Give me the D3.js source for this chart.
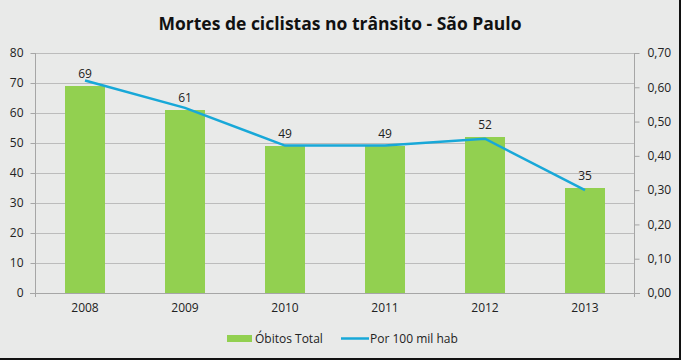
<!DOCTYPE html>
<html>
<head>
<meta charset="utf-8">
<script src="https://cdn.jsdelivr.net/npm/d3@7"></script>
<style>
  body { margin: 0; background: #fff; }
  svg text { font-family: "Open Sans", Lato, sans-serif; fill: #222; }
</style>
</head>
<body>
<div id="chart"></div>
<script>
var svgWidth = 681;
var svgHeight = 360;
var margin = { top: 53, right: 46, bottom: 67, left: 35 };
var width = svgWidth - margin.left - margin.right;
var height = svgHeight - margin.top - margin.bottom;

// data
var years = ["2008", "2009", "2010", "2011", "2012", "2013"];
var obitos = [69, 61, 49, 49, 52, 35];
var por100mil = [0.62, 0.54, 0.43, 0.43, 0.45, 0.30];
var leftTicks = [0, 10, 20, 30, 40, 50, 60, 70, 80];
var rightTicks = [0, 0.1, 0.2, 0.3, 0.4, 0.5, 0.6, 0.7];

var svg = d3.select("#chart")
  .append("svg")
  .attr("width", svgWidth)
  .attr("height", svgHeight);

// background + dark edge on right/bottom
svg.append("rect")
  .attr("width", svgWidth)
  .attr("height", svgHeight)
  .attr("fill", "#111");
svg.append("rect")
  .attr("width", svgWidth - 2)
  .attr("height", svgHeight - 2)
  .attr("fill", "#e9eae9");

svg.append("text")
  .attr("x", 340)
  .attr("y", 30)
  .attr("text-anchor", "middle")
  .attr("font-size", "17.5px")
  .attr("font-weight", "bold")
  .style("fill", "#111")
  .text("Mortes de ciclistas no trânsito - São Paulo");

var chartGroup = svg.append("g")
  .attr("transform", `translate(${margin.left}, ${margin.top})`);

var xScale = d3.scaleBand()
  .domain(years)
  .range([0, width])
  .paddingInner(0.6)
  .paddingOuter(0.3);

var yLeft = d3.scaleLinear().domain([0, 80]).range([height, 0]);
var yRight = d3.scaleLinear().domain([0, 0.7]).range([height, 0]);

// gridlines
chartGroup.append("g")
  .selectAll("line")
  .data(leftTicks.slice(1))
  .enter()
  .append("line")
  .attr("x1", 0)
  .attr("x2", width)
  .attr("y1", d => yLeft(d) + 0.5)
  .attr("y2", d => yLeft(d) + 0.5)
  .attr("stroke", "#bcbcbc")
  .attr("stroke-width", 1);

// bars
chartGroup.selectAll(".bar")
  .data(obitos)
  .enter()
  .append("rect")
  .attr("class", "bar")
  .attr("x", (d, i) => xScale(years[i]))
  .attr("y", d => yLeft(d))
  .attr("width", xScale.bandwidth())
  .attr("height", d => height - yLeft(d))
  .attr("fill", "#92d050");

// left axis
var leftAxis = d3.axisLeft(yLeft).tickValues(leftTicks).tickSize(5).tickPadding(7);
var gLeft = chartGroup.append("g").attr("transform", "translate(0.5,0)").call(leftAxis);

// right axis
var rightAxis = d3.axisRight(yRight).tickValues(rightTicks).tickSize(5).tickPadding(8)
  .tickFormat(d => d3.format(".2f")(d).replace(".", ","));
var gRight = chartGroup.append("g").attr("transform", `translate(${width - 0.5},0)`).call(rightAxis);

[gLeft, gRight].forEach(function(g) {
  g.select(".domain").remove();
  g.selectAll("line").attr("stroke", "#a6a6a6");
  g.selectAll("text").attr("font-size", "12px").style("fill", "#222");
  g.append("line")
    .attr("y1", 0)
    .attr("y2", height + 4)
    .attr("stroke", "#a6a6a6");
});

// baseline
chartGroup.append("line")
  .attr("x1", -5)
  .attr("x2", width + 5)
  .attr("y1", height + 0.5)
  .attr("y2", height + 0.5)
  .attr("stroke", "#a6a6a6");

// x axis labels
var bottomAxis = d3.axisBottom(xScale).tickSize(0).tickPadding(10);
var gBottom = chartGroup.append("g")
  .attr("transform", `translate(0, ${height})`)
  .call(bottomAxis);
gBottom.select(".domain").remove();
gBottom.selectAll("text").attr("font-size", "12px").style("fill", "#222");

// line
var line = d3.line()
  .x((d, i) => xScale(years[i]) + xScale.bandwidth() / 2)
  .y(d => yRight(d));

chartGroup.append("path")
  .datum(por100mil)
  .attr("d", line)
  .attr("fill", "none")
  .attr("stroke", "#18a8d8")
  .attr("stroke-width", 2.5);

// data labels
chartGroup.selectAll(".lbl")
  .data(obitos)
  .enter()
  .append("text")
  .attr("class", "lbl")
  .attr("x", (d, i) => xScale(years[i]) + xScale.bandwidth() / 2)
  .attr("y", d => yLeft(d) - 8)
  .attr("text-anchor", "middle")
  .attr("font-size", "12px")
  .text(d => d);

// legend
var legend = svg.append("g");
legend.append("rect")
  .attr("x", 227)
  .attr("y", 335)
  .attr("width", 25)
  .attr("height", 7)
  .attr("fill", "#92d050");
legend.append("text")
  .attr("x", 255)
  .attr("y", 343)
  .attr("font-size", "12px")
  .text("Óbitos Total");
legend.append("line")
  .attr("x1", 341)
  .attr("x2", 369)
  .attr("y1", 338.5)
  .attr("y2", 338.5)
  .attr("stroke", "#18a8d8")
  .attr("stroke-width", 2.5);
legend.append("text")
  .attr("x", 370)
  .attr("y", 343)
  .attr("font-size", "12px")
  .text("Por 100 mil hab");
</script>
</body>
</html>
